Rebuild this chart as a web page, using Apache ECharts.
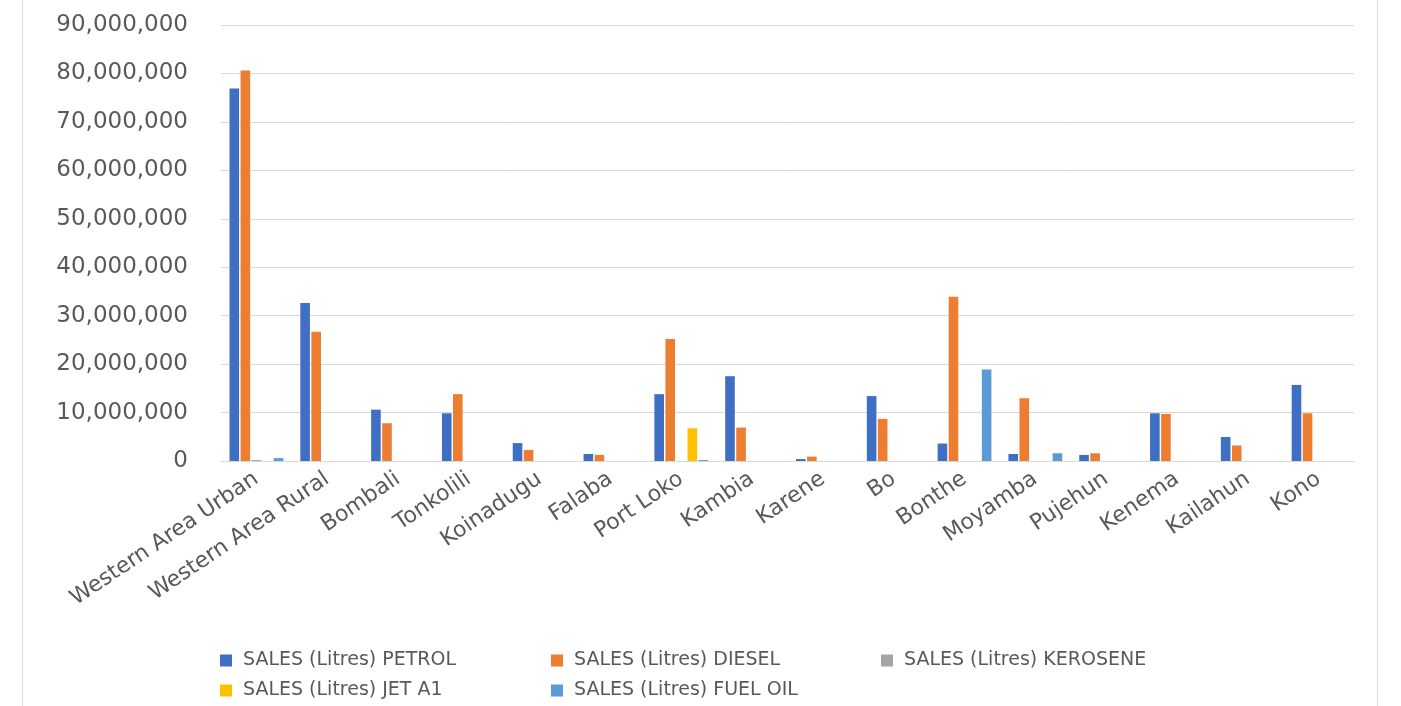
<!DOCTYPE html>
<html>
<head>
<meta charset="utf-8">
<script src="https://cdn.jsdelivr.net/npm/echarts@6/dist/echarts.min.js"></script>
<style>
  html, body { margin: 0; padding: 0; background: #fff; }
  #chart { position: absolute; left: 0; top: 0; width: 1401px; height: 706px; }
  #frame { position: absolute; left: 22px; top: 0; width: 1354px; height: 706px;
           border-left: 1px solid #dcdcdc; border-right: 1px solid #dcdcdc; pointer-events: none; }
</style>
</head>
<body>
<div id="chart"></div>
<div id="frame"></div>
<script>
var districts = ['Western Area Urban', 'Western Area Rural', 'Bombali', 'Tonkolili', 'Koinadugu', 'Falaba',
  'Port Loko', 'Kambia', 'Karene', 'Bo', 'Bonthe', 'Moyamba', 'Pujehun', 'Kenema', 'Kailahun', 'Kono'];

var petrol   = [76900000, 32600000, 10600000, 9850000, 3700000, 1450000, 13800000, 17500000, 400000, 13400000, 3600000, 1450000, 1250000, 9850000, 4950000, 15700000];
var diesel   = [80600000, 26700000, 7800000, 13800000, 2300000, 1250000, 25200000, 6900000, 900000, 8700000, 33900000, 12950000, 1600000, 9700000, 3200000, 9850000];
var kerosene = [200000, 0, 0, 0, 0, 0, 0, 0, 0, 0, 0, 0, 0, 0, 0, 0];
var jetA1    = [0, 0, 0, 0, 0, 0, 6750000, 0, 0, 0, 0, 0, 0, 0, 0, 0];
var fuelOil  = [600000, 0, 0, 0, 0, 0, 200000, 0, 0, 0, 18900000, 1600000, 0, 0, 0, 0];

var seriesNames = ['SALES (Litres) PETROL', 'SALES (Litres) DIESEL', 'SALES (Litres) KEROSENE',
  'SALES (Litres) JET A1', 'SALES (Litres) FUEL OIL'];
var seriesData = [petrol, diesel, kerosene, jetA1, fuelOil];
var colors = ['#3F6FC3', '#ED7D31', '#A5A5A5', '#FFC000', '#5B9BD5'];

var chartDom = document.getElementById('chart');
var myChart = echarts.init(chartDom);
var font = 'DejaVu Sans';

// legend laid out in three columns like the original
function legendCol(left, names) {
  return {
    orient: 'vertical',
    left: left,
    top: 646,
    itemWidth: 12,
    itemHeight: 12,
    itemGap: 11,
    icon: 'rect',
    textStyle: { fontFamily: font, fontSize: 19, color: '#595959', padding: [0, 0, 0, 6] },
    data: names
  };
}

var option = {
  animation: false,
  color: colors,
  grid: { left: 221, right: 47, top: 25, bottom: 245 },
  legend: [
    legendCol(215, [seriesNames[0], seriesNames[3]]),
    legendCol(546, [seriesNames[1], seriesNames[4]]),
    legendCol(876, [seriesNames[2]])
  ],
  xAxis: {
    type: 'category',
    data: districts,
    axisLine: { lineStyle: { color: '#d9d9d9' } },
    axisTick: { show: false },
    axisLabel: { interval: 0, rotate: 34, fontFamily: font, fontSize: 22, color: '#595959', margin: 16 }
  },
  yAxis: {
    type: 'value',
    min: 0,
    max: 90000000,
    interval: 10000000,
    axisLine: { show: false },
    axisTick: { show: false },
    splitLine: { lineStyle: { color: '#d9d9d9' } },
    axisLabel: {
      fontFamily: font, fontSize: 23, color: '#595959', margin: 33,
      formatter: function (v) { return v.toLocaleString('en-US'); }
    }
  },
  series: seriesNames.map(function (name, i) {
    return {
      name: name,
      type: 'bar',
      data: seriesData[i],
      barGap: '15%',
      barCategoryGap: '24%'
    };
  })
};

option && myChart.setOption(option);
</script>
</body>
</html>
